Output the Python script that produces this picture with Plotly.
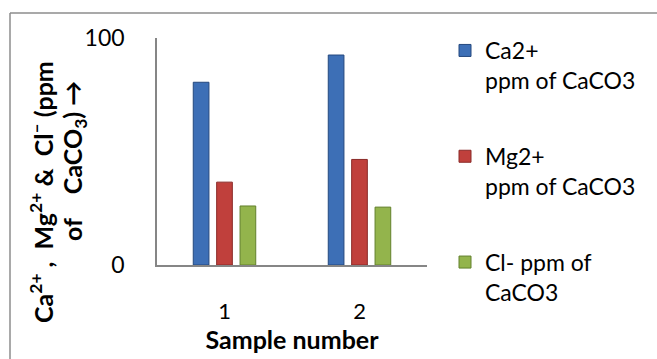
import plotly.graph_objects as go

samples = ["1", "2"]
ca_vals = [80.5, 92.5]
mg_vals = [36.5, 46.5]
cl_vals = [26.0, 25.5]
series_names = ["Ca2+<br>ppm of CaCO3", "Mg2+<br>ppm of CaCO3", "Cl- ppm of<br>CaCO3"]
y_ticks = [0, 100]

FONT = "Lato"
colors = ["#3d6fb6", "#c0403c", "#93b44c"]
edges = ["#24487e", "#8a2a28", "#62802c"]

fig = go.Figure()
for i, (vals, name) in enumerate(zip([ca_vals, mg_vals, cl_vals], series_names)):
    fig.add_trace(go.Bar(
        x=samples, y=vals, name=name, legendgroup=f"g{i}",
        marker=dict(color=colors[i], line=dict(color=edges[i], width=1)),
    ))

# plot area geometry (px)
L, R, T, B = 157, 427, 38, 265
W, H = R - L, B - T
def px(x):
    return (x - L) / W
def py(y):
    return (B - y) / H

fig.update_layout(
    width=657, height=359,
    margin=dict(l=L, r=657 - R, t=T, b=359 - B),
    paper_bgcolor="white", plot_bgcolor="white",
    font=dict(family=FONT, size=22, color="black"),
    barmode="group", bargap=0.48, bargroupgap=0.33,
    showlegend=True,
    legend=dict(x=px(445), y=py(29), xanchor="left", yanchor="top",
                valign="top", tracegroupgap=43, traceorder="grouped",
                maxheight=400,
                font=dict(family=FONT, size=23, color="black"),
                bgcolor="rgba(0,0,0,0)"),
    xaxis=dict(showline=True, linecolor="#868686", linewidth=1.5,
               showgrid=False, ticks="", ticklabelstandoff=26,
               tickfont=dict(size=22),
               title=dict(text="<b>Sample number</b>", standoff=0,
                          font=dict(size=25))),
    yaxis=dict(range=[0, 100], tickvals=y_ticks, showline=True,
               linecolor="#868686", linewidth=1.5, showgrid=False,
               zeroline=False, ticks="", ticklabelstandoff=26,
               tickfont=dict(size=23)),
)

# rotated two-line y-axis title
fig.add_annotation(text="<b>Ca<sup>2+</sup> ,  Mg<sup>2+</sup> &  Cl<sup>–</sup> (ppm</b>",
                   xref="paper", yref="paper", x=px(41), y=py(192),
                   xanchor="center", yanchor="middle",
                   textangle=-90, showarrow=False, font=dict(size=25))
fig.add_annotation(text="<b>of    CaCO<sub>3</sub>) →</b>",
                   xref="paper", yref="paper", x=px(74), y=py(161),
                   xanchor="center", yanchor="middle",
                   textangle=-90, showarrow=False, font=dict(size=25))

# chart frame
fig.add_shape(type="line", xref="paper", yref="paper",
              x0=px(10), x1=px(10), y0=py(13), y1=py(370),
              line=dict(color="#8c8c8c", width=1.5))
fig.add_shape(type="line", xref="paper", yref="paper",
              x0=px(10), x1=px(670), y0=py(13), y1=py(13),
              line=dict(color="#8c8c8c", width=1.5))

fig.write_html("out.html")
